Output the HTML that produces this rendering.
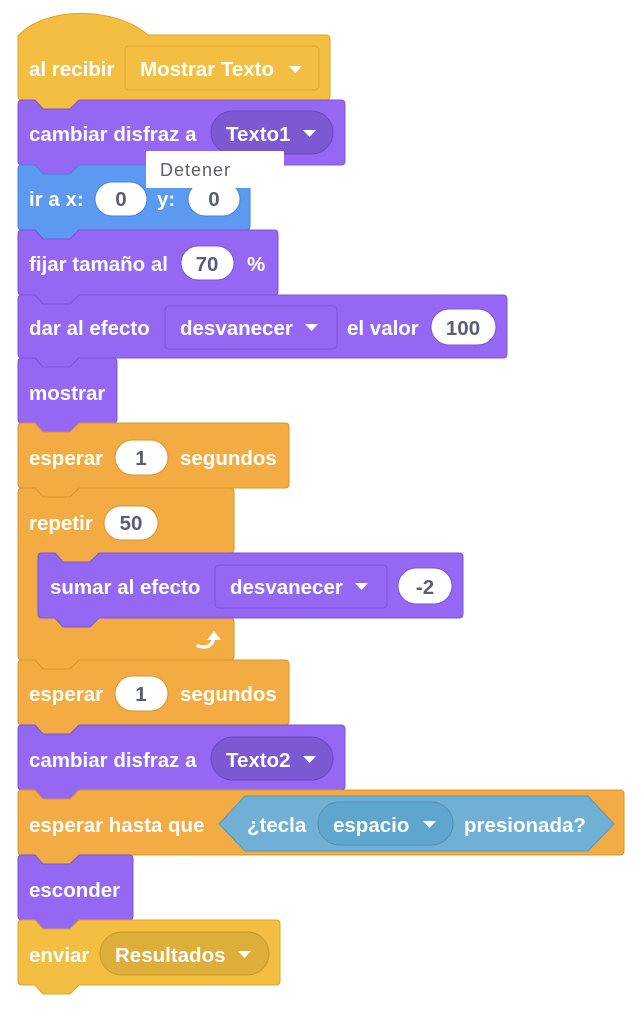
<!DOCTYPE html>
<html><head><meta charset="utf-8">
<style>
html,body{margin:0;padding:0;background:#fff;width:643px;height:1012px;overflow:hidden}
svg{display:block}
text{font-family:"Liberation Sans",sans-serif;font-weight:bold;font-size:20.5px;fill:#fff}
.in{fill:#575E75;text-anchor:middle}
.tip{font-weight:normal;font-size:18px;fill:#575E75;letter-spacing:1px}
</style></head><body>
<svg width="643" height="1012" viewBox="0 0 643 1012">
<path id="b1" fill="#F4BE42" stroke="#D9A52E"/>
<path id="b2" fill="#9468F2" stroke="#7C55D6"/>
<path id="b3" fill="#5B9AF0" stroke="#4A83D6"/>
<path id="b4" fill="#9468F2" stroke="#7C55D6"/>
<path id="b5" fill="#9468F2" stroke="#7C55D6"/>
<path id="b6" fill="#9468F2" stroke="#7C55D6"/>
<path id="b7" fill="#F3AC43" stroke="#D9932E"/>
<path id="b8" fill="#F3AC43" stroke="#D9932E"/>
<path id="b8i" fill="#9468F2" stroke="#7C55D6"/>
<path id="b9" fill="#F3AC43" stroke="#D9932E"/>
<path id="b10" fill="#9468F2" stroke="#7C55D6"/>
<path id="b11" fill="#F3AC43" stroke="#D9932E"/>
<path id="b12" fill="#9468F2" stroke="#7C55D6"/>
<path id="b13" fill="#F4BE42" stroke="#D9A52E"/>

<text x="29" y="76">al recibir</text>
<rect x="125" y="46" width="194" height="44" rx="4" fill="#F4BE42" stroke="#D9A52E"/>
<text x="140" y="76">Mostrar Texto</text>
<polygon points="289,66 302,66 295.5,73" fill="#fff"/>
<text x="29" y="141">cambiar disfraz a</text>
<rect x="211" y="111" width="122" height="43" rx="21.5" fill="#7C59D2" stroke="#6A48C2"/>
<text x="226" y="141">Texto1</text>
<polygon points="303,130 316,130 309.5,137" fill="#fff"/>
<text x="29" y="206">ir a x:</text>
<rect x="95" y="182" width="52" height="34" rx="17" fill="#fff" stroke="#4A83D6"/>
<text x="121" y="206" class="in">0</text>
<text x="157" y="206">y:</text>
<rect x="188" y="182" width="52" height="34" rx="17" fill="#fff" stroke="#4A83D6"/>
<text x="214" y="206" class="in">0</text>
<rect x="146" y="151" width="138" height="37" fill="#fff"/>
<text x="160" y="176" class="tip">Detener</text>
<text x="29" y="271">fijar tamaño al</text>
<rect x="181" y="246" width="53" height="34" rx="17" fill="#fff" stroke="#7C55D6"/>
<text x="207" y="271" class="in">70</text>
<text x="247" y="271">%</text>
<text x="29" y="335">dar al efecto</text>
<rect x="165" y="306" width="172" height="43" rx="4" fill="#9468F2" stroke="#7C55D6"/>
<text x="180" y="335">desvanecer</text>
<polygon points="305,324 318,324 311.5,331" fill="#fff"/>
<text x="347" y="335">el valor</text>
<rect x="431" y="309" width="65" height="36" rx="18" fill="#fff" stroke="#7C55D6"/>
<text x="463" y="335" class="in">100</text>
<text x="29" y="400">mostrar</text>
<text x="29" y="465">esperar</text>
<rect x="115" y="440" width="53" height="35" rx="17.5" fill="#fff" stroke="#D9932E"/>
<text x="141" y="465" class="in">1</text>
<text x="180" y="465">segundos</text>
<text x="29" y="530">repetir</text>
<rect x="104" y="506" width="54" height="34" rx="17" fill="#fff" stroke="#D9932E"/>
<text x="131" y="530" class="in">50</text>
<text x="50" y="594">sumar al efecto</text>
<rect x="215" y="565" width="172" height="43" rx="4" fill="#9468F2" stroke="#7C55D6"/>
<text x="230" y="594">desvanecer</text>
<polygon points="355,583 368,583 361.5,590" fill="#fff"/>
<rect x="398" y="568" width="54" height="36" rx="18" fill="#fff" stroke="#7C55D6"/>
<text x="425" y="594" class="in">-2</text>
<path d="M198,646 Q211,650 214,638" fill="none" stroke="#fff" stroke-width="3.5" stroke-linecap="round"/>
<polygon points="207,640 214,631 221,640" fill="#fff"/>
<text x="29" y="701">esperar</text>
<rect x="115" y="676" width="53" height="35" rx="17.5" fill="#fff" stroke="#D9932E"/>
<text x="141" y="701" class="in">1</text>
<text x="180" y="701">segundos</text>
<text x="29" y="767">cambiar disfraz a</text>
<rect x="211" y="737" width="122" height="43" rx="21.5" fill="#7C59D2" stroke="#6A48C2"/>
<text x="226" y="767">Texto2</text>
<polygon points="303,756 316,756 309.5,763" fill="#fff"/>
<text x="29" y="832">esperar hasta que</text>
<polygon points="219,824 245,796 588,796 614,824 588,851 245,851" fill="#6FB0D4" stroke="#5A98BE"/>
<text x="247" y="832">¿tecla</text>
<rect x="318" y="802" width="135" height="43" rx="21.5" fill="#5FA6CE" stroke="#4E90B8"/>
<text x="333" y="832">espacio</text>
<polygon points="423,821 436,821 429.5,828" fill="#fff"/>
<text x="464" y="832">presionada?</text>
<text x="29" y="897">esconder</text>
<text x="29" y="962">enviar</text>
<rect x="100" y="932" width="169" height="43" rx="21.5" fill="#DFAD3A" stroke="#C9982A"/>
<text x="115" y="962">Resultados</text>
<polygon points="238,951 251,951 244.5,958" fill="#fff"/>
</svg>
<script>
function topEdge(x,y,w,notch){var s='M'+x+','+(y+4)+' Q'+x+','+y+' '+(x+4)+','+y;
 if(notch) s+=' L'+(x+17)+','+y+' L'+(x+25)+','+(y+9)+' L'+(x+52)+','+(y+9)+' L'+(x+61)+','+y;
 s+=' L'+(x+w-4)+','+y+' Q'+(x+w)+','+y+' '+(x+w)+','+(y+4);return s;}
function botEdge(x,y,w){return ' L'+(x+w)+','+(y-4)+' Q'+(x+w)+','+y+' '+(x+w-4)+','+y+
 ' L'+(x+61)+','+y+' L'+(x+52)+','+(y+9)+' L'+(x+25)+','+(y+9)+' L'+(x+17)+','+y+
 ' L'+(x+4)+','+y+' Q'+x+','+y+' '+x+','+(y-4)+' Z';}
function blk(id,x,y,w,h){document.getElementById(id).setAttribute('d',topEdge(x,y,w,true)+botEdge(x,y+h,w));}
document.getElementById('b1').setAttribute('d','M18,36 C45,6 115,6 148,35 L326,35 Q330,35 330,39'+botEdge(18,100,312));
blk('b2',18,100,327,65);
blk('b3',18,165,232,65);
blk('b4',18,230,260,65);
blk('b5',18,295,489,63);
blk('b6',18,358,99,65);
blk('b7',18,423,271,65);
var c=topEdge(18,488,216,true)+' L234,549 Q234,553 230,553 L99,553 L90,562 L63,562 L55,553 L42,553 Q38,553 38,557 L38,614 Q38,618 42,618 L55,618 L63,627 L90,627 L99,618 L230,618 Q234,618 234,622'+botEdge(18,660,216);
document.getElementById('b8').setAttribute('d',c);
blk('b8i',38,553,425,65);
blk('b9',18,660,271,65);
blk('b10',18,725,327,65);
blk('b11',18,790,606,65);
blk('b12',18,855,115,65);
blk('b13',18,920,262,65);
</script>
</body></html>
